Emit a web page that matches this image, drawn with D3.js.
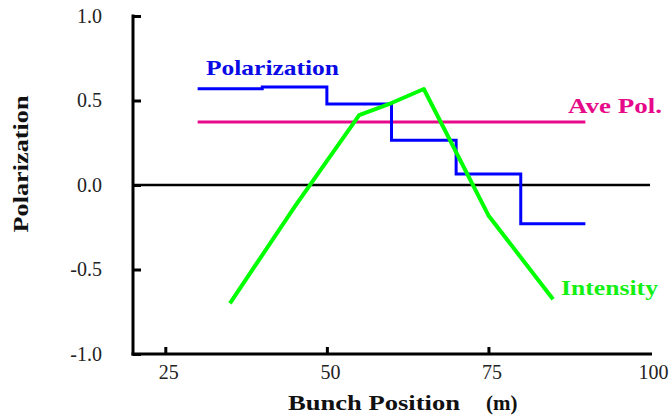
<!DOCTYPE html>
<html><head><meta charset="utf-8">
<script src="https://cdn.jsdelivr.net/npm/d3@7"></script>
<style>body{margin:0;background:#fff}svg{display:block}text{font-family:"Liberation Serif","Times New Roman",serif}</style>
</head><body><svg id="c" width="672" height="418"></svg>
<script>
// data
const polSteps = [30, 40, 50, 60, 70, 80, 90];
const polValues = [0.57, 0.58, 0.48, 0.265, 0.065, -0.23];
const avePol = 0.373;
const aveRange = [30, 90];
const intensityX = [35, 45, 55, 60, 65, 75, 85];
const intensityY = [-0.70, -0.13, 0.414, 0.485, 0.568, -0.18, -0.676];
const xTicks = [25, 50, 75, 100];
const yTicks = [1.0, 0.5, 0.0, -0.5, -1.0];

const svg = d3.select("#c");
const x = d3.scaleLinear().domain([20, 100]).range([133, 650]);
const y = d3.scaleLinear().domain([-1, 1]).range([354, 16]);

// axes
const gx = svg.append("g").attr("transform", `translate(0,${y(-1)})`)
  .call(d3.axisBottom(x).tickValues(xTicks).tickSize(-7).tickPadding(14).tickFormat(d3.format("d")));
const gy = svg.append("g").attr("transform", `translate(${x(20)},0)`)
  .call(d3.axisLeft(y).tickValues(yTicks).tickSize(-8).tickPadding(31).tickFormat(d3.format(".1f")));
[gx, gy].forEach(g => {
  g.select(".domain").remove();
  g.selectAll(".tick line").attr("stroke", "#000").attr("stroke-width", 3);
  g.selectAll("text").attr("font-size", 20).attr("fill", "#222")
    .attr("font-family", '"Liberation Serif",serif');
});
gx.selectAll(".tick text").attr("dx", 3).attr("dy", "0.55em");
gx.selectAll(".tick").filter(d => d === 100).select("line").remove();
gy.selectAll(".tick text").text(d => d3.format(".1f")(d).replace("−", "-"));
svg.append("line").attr("x1", x(20)).attr("x2", x(20)).attr("y1", y(1) - 1.5).attr("y2", y(-1) + 1.5)
  .attr("stroke", "#000").attr("stroke-width", 3);
svg.append("line").attr("x1", x(20) - 1.5).attr("x2", x(100) + 2).attr("y1", y(-1)).attr("y2", y(-1))
  .attr("stroke", "#000").attr("stroke-width", 3);

// zero line
svg.append("line").attr("x1", x(20)).attr("x2", x(100)).attr("y1", y(0)).attr("y2", y(0))
  .attr("stroke", "#000").attr("stroke-width", 2.5);

// average polarization
svg.append("line").attr("x1", x(aveRange[0])).attr("x2", x(aveRange[1])).attr("y1", y(avePol)).attr("y2", y(avePol))
  .attr("stroke", "#e6098a").attr("stroke-width", 3);

// polarization step
const stepPts = polValues.map((v, i) => [polSteps[i], v]);
stepPts.push([polSteps[polSteps.length - 1], polValues[polValues.length - 1]]);
svg.append("path").datum(stepPts)
  .attr("d", d3.line().x(d => x(d[0])).y(d => y(d[1])).curve(d3.curveStepAfter))
  .attr("fill", "none").attr("stroke", "#0000ff").attr("stroke-width", 3);

// intensity
svg.append("path").datum(intensityX.map((v, i) => [v, intensityY[i]]))
  .attr("d", d3.line().x(d => x(d[0])).y(d => y(d[1])))
  .attr("fill", "none").attr("stroke", "#00ff00").attr("stroke-width", 4).attr("stroke-linejoin", "round");

// labels
svg.append("text").attr("x", 206).attr("y", 75).attr("font-size", 21).attr("font-weight", "bold")
  .attr("fill", "#0a0ae6").attr("textLength", 133).attr("lengthAdjust", "spacingAndGlyphs").text("Polarization");
svg.append("text").attr("x", 568).attr("y", 113).attr("font-size", 21).attr("font-weight", "bold")
  .attr("fill", "#e6098a").attr("textLength", 94).attr("lengthAdjust", "spacingAndGlyphs").text("Ave Pol.");
svg.append("text").attr("x", 561).attr("y", 295).attr("font-size", 21).attr("font-weight", "bold")
  .attr("fill", "#14f014").attr("textLength", 97).attr("lengthAdjust", "spacingAndGlyphs").text("Intensity");

// axis titles
svg.append("text").attr("x", 288).attr("y", 410).attr("font-size", 21).attr("font-weight", "bold")
  .attr("fill", "#111").attr("textLength", 172).attr("lengthAdjust", "spacingAndGlyphs").text("Bunch Position");
svg.append("text").attr("x", 486).attr("y", 410).attr("font-size", 21).attr("font-weight", "bold")
  .attr("fill", "#111").text("(m)");
svg.append("text").attr("transform", "translate(28,164) rotate(-90)").attr("text-anchor", "middle")
  .attr("font-size", 21).attr("font-weight", "bold").attr("fill", "#111")
  .attr("textLength", 137).attr("lengthAdjust", "spacingAndGlyphs").text("Polarization");
</script></body></html>
